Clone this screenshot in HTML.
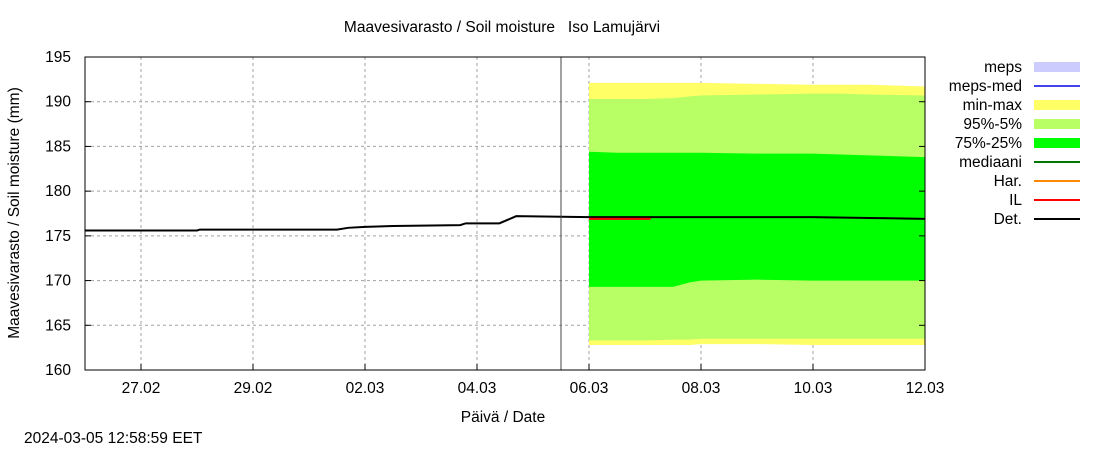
<!DOCTYPE html>
<html><head><meta charset="utf-8"><style>
body{margin:0;background:#fff;font-family:"Liberation Sans",sans-serif;}
text{font-family:"Liberation Sans",sans-serif;font-size:15.5px;fill:#000;white-space:pre;}
</style></head><body>
<svg id="c" width="1100" height="450" xmlns="http://www.w3.org/2000/svg">
<text x="502" y="32" text-anchor="middle">Maavesivarasto / Soil moisture   Iso Lamujärvi</text>
<text x="503" y="422" text-anchor="middle">Päivä / Date</text>
<text transform="translate(19,213) rotate(-90)" text-anchor="middle">Maavesivarasto / Soil moisture (mm)</text>
<text x="24" y="443">2024-03-05 12:58:59 EET</text>
<g id="grid"></g><g id="bands"></g><g id="lines"></g><g id="axes"></g><g id="legend"></g>
</svg>
<script>
// days since 26.02 00:00
const fcDays=[9.0,9.5,10.0,10.5,10.8,11.0,12.0,13.0,13.5,14.0,15.0];
const fcMax=[192.1,192.1,192.1,192.1,192.1,192.1,192.0,191.9,191.9,191.9,191.7];
const fcMin=[162.8,162.8,162.8,162.8,162.8,162.9,162.9,162.8,162.8,162.8,162.8];
const fc95=[190.3,190.3,190.3,190.4,190.6,190.7,190.8,190.9,190.9,190.8,190.7];
const fc5=[163.3,163.3,163.3,163.4,163.4,163.5,163.5,163.5,163.5,163.5,163.5];
const fc75=[184.4,184.3,184.3,184.3,184.3,184.3,184.2,184.2,184.1,184.0,183.8];
const fc25=[169.3,169.3,169.3,169.3,169.8,170.0,170.1,170.0,170.0,170.0,170.0];
const detDays=[0,2,2.05,4.5,4.7,5,5.5,6.7,6.8,7.4,7.7,9,10,11,12,13,14,15];
const detVals=[175.6,175.6,175.7,175.7,175.9,176.0,176.1,176.2,176.4,176.4,177.2,177.1,177.1,177.1,177.1,177.1,177.0,176.9];
const ilDays=[9.0,9.15,9.6,10.1];
const ilVals=[176.9,176.9,176.9,176.9];
const yTicks=[160,165,170,175,180,185,190,195];
const xTickDays=[1,3,5,7,9,11,13,15];
const xTickLabels=["27.02","29.02","02.03","04.03","06.03","08.03","10.03","12.03"];
const nowDay=8.5;
const legNames=["meps","meps-med","min-max","95%-5%","75%-25%","mediaani","Har.","IL","Det."];
const legColors=["#ccccff","#4444ee","#ffff66","#b8ff66","#00ff00","#007700","#ff8800","#ff0000","#000000"];
const legBox=[true,false,true,true,true,false,false,false,false];

const L=85,R=925,T=57,B=370;
const X=d=>L+(d-0)*(R-L)/15, Y=v=>B-(v-160)*(B-T)/35;
const NS="http://www.w3.org/2000/svg";
function mk(tag,attrs,parent){const e=document.createElementNS(NS,tag);for(const k in attrs)e.setAttribute(k,attrs[k]);document.getElementById(parent).appendChild(e);return e;}
function step(xs,ys){let p=[];for(let i=0;i<xs.length;i++){p.push([X(xs[i]),Y(ys[i])]);}return p;}
function band(hi,lo,color,name){let pts=step(fcDays,hi).concat(step(fcDays,lo).reverse());
 const e=mk('polygon',{points:pts.map(p=>p.join(',')).join(' '),fill:color},'bands');
 
 }
for(const v of yTicks){const y=Y(v);
 if(v>160&&v<195){const g=mk('line',{x1:L,x2:R,y1:y,y2:y,stroke:'#a0a0a0','stroke-dasharray':'3,3'},'grid');}
 const t=mk('text',{x:L-14,y:y+5,'text-anchor':'end'},'axes');t.textContent=v;
 
 
 mk('line',{x1:L,x2:L+6,y1:y,y2:y,stroke:'#000'},'axes');mk('line',{x1:R-6,x2:R,y1:y,y2:y,stroke:'#000'},'axes');}
xTickDays.forEach((d,i)=>{const x=X(d);
 if(d<15){const g=mk('line',{x1:x,x2:x,y1:T,y2:B,stroke:'#a0a0a0','stroke-dasharray':'3,3'},'grid');}
 const t=mk('text',{x:x,y:B+23,'text-anchor':'middle'},'axes');t.textContent=xTickLabels[i];
 
 
 mk('line',{x1:x,x2:x,y1:B,y2:B-6,stroke:'#000'},'axes');});
band(fcMax,fcMin,'#ffff66','band-min-max');
band(fc95,fc5,'#b8ff66','band-95-5');
band(fc75,fc25,'#00ff00','band-75-25');
const det=mk('polyline',{points:step(detDays,detVals).map(p=>p.join(',')).join(' '),fill:'none',stroke:'#000','stroke-width':2},'lines');


const il=mk('polyline',{points:step(ilDays,ilVals).map(p=>p.join(',')).join(' '),fill:'none',stroke:'#ff0000','stroke-width':2},'lines');


const nl=mk('line',{x1:X(nowDay),x2:X(nowDay),y1:T,y2:B,stroke:'#444','stroke-width':1},'lines');


const fr=mk('rect',{x:L,y:T,width:R-L,height:B-T,fill:'none',stroke:'#000','stroke-width':1},'axes');


legNames.forEach((n,i)=>{const y=67+i*19;
 const t=mk('text',{x:1022,y:y+5,'text-anchor':'end'},'legend');t.textContent=n;
 
 
 if(legBox[i])mk('rect',{x:1034,y:y-5,width:46,height:10,fill:legColors[i]},'legend');
 else mk('line',{x1:1034,x2:1080,y1:y,y2:y,stroke:legColors[i],'stroke-width':2},'legend');});
</script>
</body></html>
